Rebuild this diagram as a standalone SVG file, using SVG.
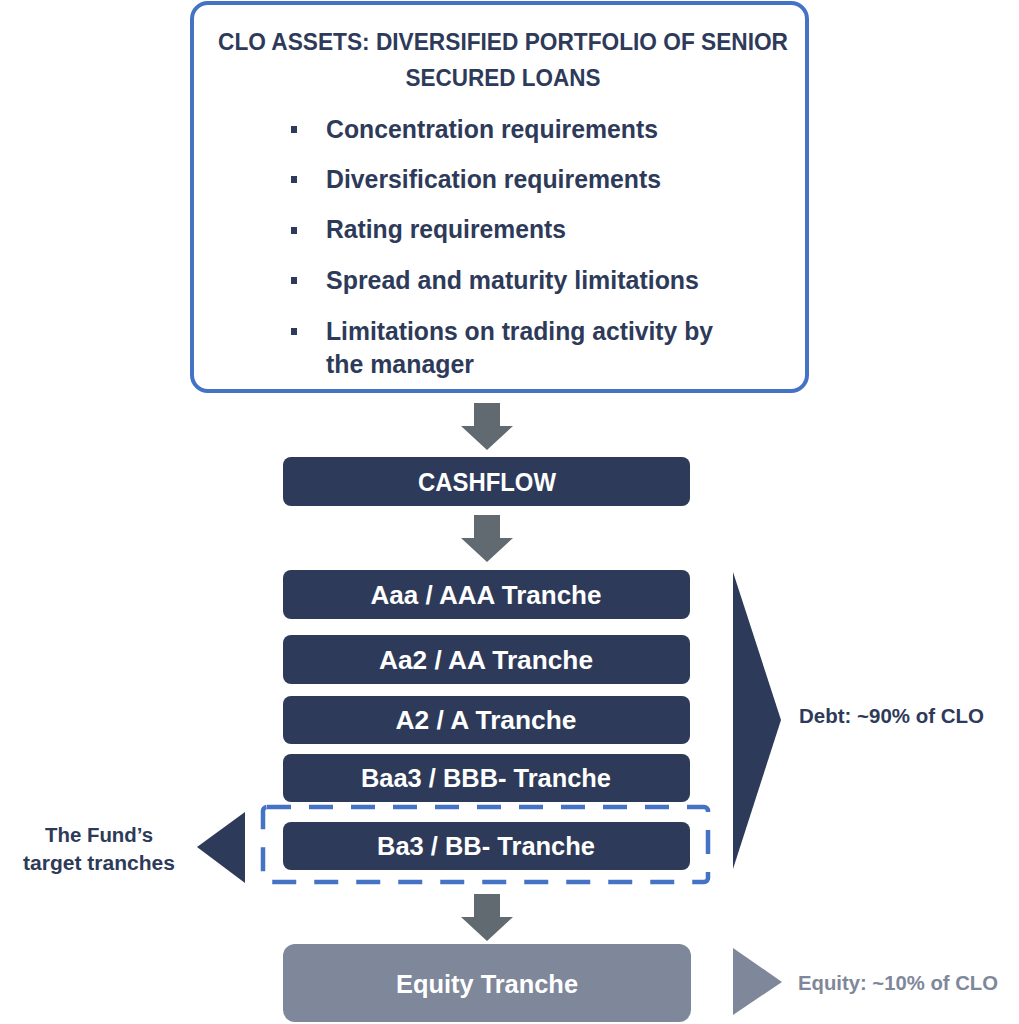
<svg xmlns="http://www.w3.org/2000/svg" width="1019" height="1024" viewBox="0 0 1019 1024">
<style>
text{font-family:"Liberation Sans",Arial,sans-serif;font-weight:bold}
.navy{fill:#2E3A59}
.box{fill:#2E3A59}
.lbl{fill:#FFFFFF;font-size:25.5px;text-anchor:middle}
.item{fill:#2E3A59;font-size:25px}
.title{fill:#2E3A59;font-size:23.5px;text-anchor:middle}
.side{fill:#2E3A59;font-size:20px}
.gray{fill:#7F879A}
.arrow{fill:#606A70}
</style>
<rect width="1019" height="1024" fill="#FFFFFF"/>
<g id="assets">
<rect x="192" y="3" width="615" height="388" rx="16" fill="#FFFFFF" stroke="#4472C4" stroke-width="4"/>
<text class="title" x="503" y="50" textLength="570" lengthAdjust="spacingAndGlyphs">CLO ASSETS: DIVERSIFIED PORTFOLIO OF SENIOR</text>
<text class="title" x="503" y="86" textLength="195" lengthAdjust="spacingAndGlyphs">SECURED LOANS</text>
<rect class="navy" x="291" y="126" width="6" height="7"/>
<text class="item" x="326" y="138" textLength="332" lengthAdjust="spacingAndGlyphs">Concentration requirements</text>
<rect class="navy" x="291" y="176" width="6" height="7"/>
<text class="item" x="326" y="188" textLength="335" lengthAdjust="spacingAndGlyphs">Diversification requirements</text>
<rect class="navy" x="291" y="227" width="6" height="7"/>
<text class="item" x="326" y="238" textLength="240" lengthAdjust="spacingAndGlyphs">Rating requirements</text>
<rect class="navy" x="291" y="277" width="6" height="7"/>
<text class="item" x="326" y="289" textLength="373" lengthAdjust="spacingAndGlyphs">Spread and maturity limitations</text>
<rect class="navy" x="291" y="328" width="6" height="7"/>
<text class="item" x="326" y="340" textLength="387" lengthAdjust="spacingAndGlyphs">Limitations on trading activity by</text>
<text class="item" x="326" y="373" textLength="148" lengthAdjust="spacingAndGlyphs">the manager</text>
</g>
<g id="connectors">
<polygon class="arrow" points="474,403 500,403 500,426 513,426 487,450 461,426 474,426"/>
<polygon class="arrow" points="474,515 500,515 500,538 513,538 487,562 461,538 474,538"/>
<polygon class="arrow" points="474,894 500,894 500,917 513,917 487,941 461,917 474,917"/>
</g>
<g id="cashflow">
<rect class="box" x="283" y="457" width="407" height="49" rx="8"/>
<text class="lbl" x="487" y="491" textLength="138" lengthAdjust="spacingAndGlyphs">CASHFLOW</text>
</g>
<g id="tranche-aaa">
<rect class="box" x="283" y="570" width="407" height="49" rx="8"/>
<text class="lbl" x="486" y="604" textLength="231" lengthAdjust="spacingAndGlyphs">Aaa / AAA Tranche</text>
</g>
<g id="tranche-aa2">
<rect class="box" x="283" y="635" width="407" height="49" rx="8"/>
<text class="lbl" x="486" y="669" textLength="214" lengthAdjust="spacingAndGlyphs">Aa2 / AA Tranche</text>
</g>
<g id="tranche-a2">
<rect class="box" x="283" y="696" width="407" height="48" rx="8"/>
<text class="lbl" x="486" y="729" textLength="181" lengthAdjust="spacingAndGlyphs">A2 / A Tranche</text>
</g>
<g id="tranche-baa3">
<rect class="box" x="283" y="754" width="407" height="48" rx="8"/>
<text class="lbl" x="486" y="787" textLength="250" lengthAdjust="spacingAndGlyphs">Baa3 / BBB- Tranche</text>
</g>
<g id="tranche-ba3">
<rect class="box" x="283" y="822" width="407" height="48" rx="8"/>
<text class="lbl" x="486" y="855" textLength="218" lengthAdjust="spacingAndGlyphs">Ba3 / BB- Tranche</text>
</g>
<g id="target-highlight">
<rect x="263" y="807" width="445" height="75" rx="4" fill="none" stroke="#4472C4" stroke-width="4.5" stroke-dasharray="24 18"/>
</g>
<g id="fund-target">
<polygon class="navy" points="245,812 245,883 197,847"/>
<text class="side" x="99" y="842" text-anchor="middle" textLength="108" lengthAdjust="spacingAndGlyphs">The Fund’s</text>
<text class="side" x="99" y="870" text-anchor="middle" textLength="152" lengthAdjust="spacingAndGlyphs">target tranches</text>
</g>
<g id="debt">
<polygon class="navy" points="733,572 781,720 733,869"/>
<text class="side" x="799" y="723" textLength="185" lengthAdjust="spacingAndGlyphs">Debt: ~90% of CLO</text>
</g>
<g id="equity-tranche">
<rect class="gray" x="283" y="944" width="408" height="78" rx="12"/>
<text class="lbl" x="487" y="993" textLength="182" lengthAdjust="spacingAndGlyphs">Equity Tranche</text>
</g>
<g id="equity">
<polygon class="gray" points="733,948 782,982 733,1015"/>
<text x="798" y="990" font-size="20" fill="#7F879A" textLength="200" lengthAdjust="spacingAndGlyphs">Equity: ~10% of CLO</text>
</g>
</svg>
